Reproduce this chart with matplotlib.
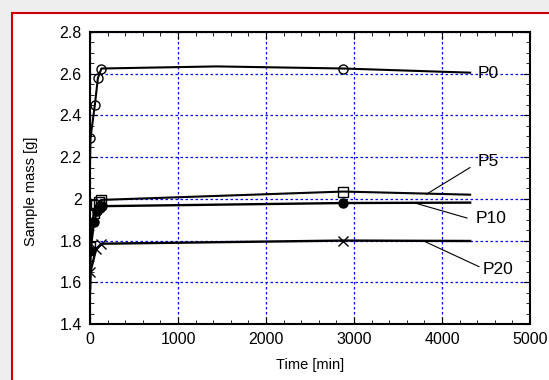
import matplotlib
matplotlib.use("Agg")
import matplotlib.pyplot as plt
from matplotlib.patches import Rectangle
from matplotlib.ticker import MultipleLocator

plt.rcParams["font.family"] = ["Liberation Sans", "DejaVu Sans"]

# time [min] and sample mass [g] per sample; first point is the dry start
p0_time = [0, 5, 55, 90, 130, 1440, 2880, 4320]
p0_mass = [2.17, 2.29, 2.45, 2.58, 2.625, 2.635, 2.625, 2.605]
p0_marks = [1, 2, 3, 4, 6]

p5_time = [0, 5, 40, 70, 100, 130, 2880, 4320]
p5_mass = [1.62, 1.77, 1.93, 1.97, 1.985, 1.995, 2.035, 2.02]
p5_marks = [1, 2, 3, 4, 5, 6]

p10_time = [0, 5, 45, 80, 110, 140, 2880, 4320]
p10_mass = [1.58, 1.75, 1.89, 1.94, 1.955, 1.965, 1.98, 1.982]
p10_marks = [1, 2, 3, 4, 5, 6]

p20_time = [0, 5, 70, 130, 2880, 4320]
p20_mass = [1.545, 1.65, 1.76, 1.785, 1.80, 1.798]
p20_marks = [1, 2, 3, 4]

labels = ["P0", "P5", "P10", "P20"]
label_pos = [(4400, 2.60), (4400, 2.177), (4386, 1.908), (4466, 1.659)]
leaders = [None,
           ((4318, 2.15), (3826, 2.023)),
           ((4284, 1.908), (3693, 1.98)),
           ((4420, 1.675), (3807, 1.795))]

fig = plt.figure(figsize=(5.49, 3.80), dpi=100, facecolor="#eeeeee")
frame = Rectangle((12 / 549, -0.1), 1.2, 1 - 13 / 380 + 0.1,
                  transform=fig.transFigure, facecolor="white",
                  edgecolor="#cc0000", linewidth=1.5, zorder=-10)
fig.add_artist(frame)

ax = fig.add_axes([90 / 549, 1 - 324 / 380, 440 / 549, 292 / 380])
ax.set_zorder(5)

ax.plot(p0_time, p0_mass, color="black", lw=1.5, marker="o", mfc="none",
        mec="black", ms=6.5, markevery=p0_marks)
ax.plot(p5_time, p5_mass, color="black", lw=1.5, marker="s", mfc="none",
        mec="black", ms=6.5, markevery=p5_marks)
ax.plot(p10_time, p10_mass, color="black", lw=1.7, marker="o", mfc="black",
        mec="black", ms=6.5, markevery=p10_marks)
ax.plot(p20_time, p20_mass, color="black", lw=1.7, marker="x", mec="black",
        ms=6.5, markevery=p20_marks)

for lab, (tx, ty), ld in zip(labels, label_pos, leaders):
    ax.text(tx, ty, lab, fontsize=12.5, ha="left", va="center", clip_on=False)
    if ld is not None:
        ax.plot([ld[0][0], ld[1][0]], [ld[0][1], ld[1][1]], color="black", lw=0.8)

ax.set_xlim(0, 5000)
ax.set_ylim(1.4, 2.8)
ax.xaxis.set_major_locator(MultipleLocator(1000))
ax.xaxis.set_minor_locator(MultipleLocator(200))
ax.yaxis.set_minor_locator(MultipleLocator(0.05))
ax.set_yticks([1.4, 1.6, 1.8, 2.0, 2.2, 2.4, 2.6, 2.8])
ax.set_yticklabels(["1.4", "1.6", "1.8", "2", "2.2", "2.4", "2.6", "2.8"])
ax.tick_params(which="both", direction="in", top=True, right=True,
               labelsize=11.5, pad=6)
ax.tick_params(which="major", length=5)
ax.tick_params(which="minor", length=3)
ax.grid(True, which="major", color="blue", linestyle=(0, (2, 2)), lw=0.9)
for sp in ax.spines.values():
    sp.set_linewidth(1.5)

ax.set_xlabel("Time [min]", fontsize=10.5, labelpad=8)
ax.set_ylabel("Sample mass [g]", fontsize=10.5)
ax.yaxis.set_label_coords(-0.118, 0.455)

fig.savefig("out.png", dpi=100, facecolor=fig.get_facecolor())
